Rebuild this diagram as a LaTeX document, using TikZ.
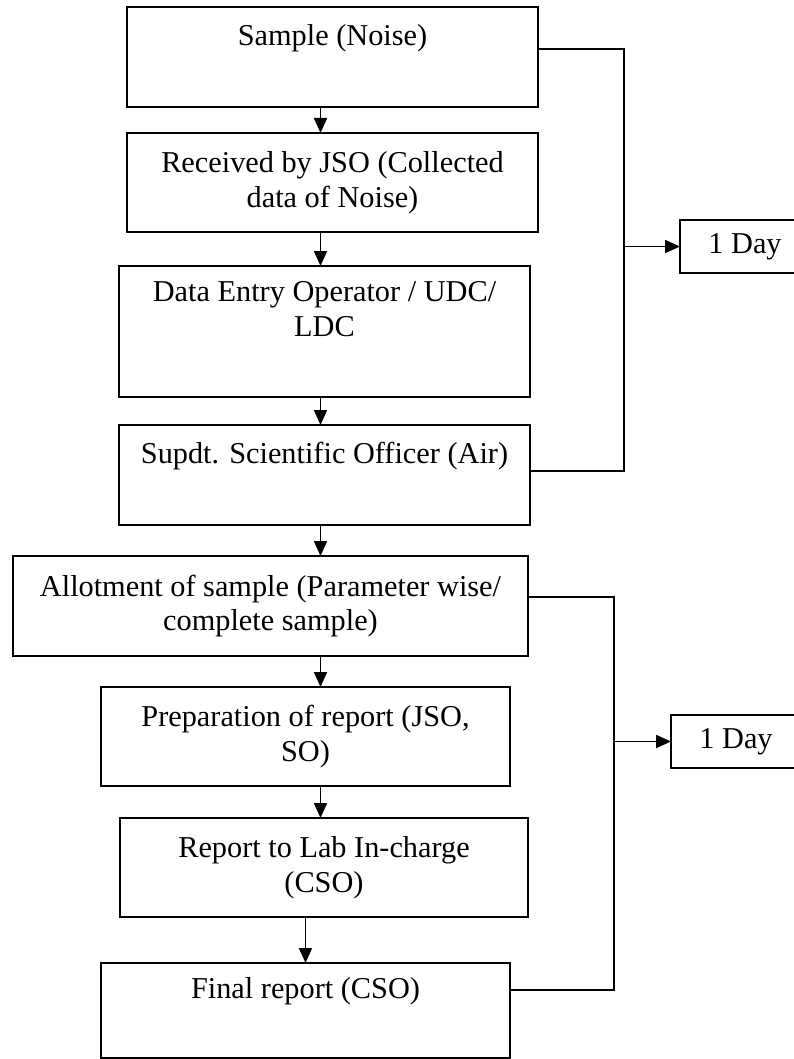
\documentclass[tikz,border=0pt]{standalone}
\usepackage{fontspec}
\setmainfont{Liberation Serif}
\usetikzlibrary{positioning,arrows.meta}

\begin{document}
\begin{tikzpicture}[
    x=1pt, y=-1pt,
    font=\fontsize{30.3}{34.5}\selectfont,
 mybox/.style = {
        draw, rectangle, align=center, line width=1.7pt,
        inner sep=8pt, outer sep=0pt, minimum height=99pt},
daybox/.style = {
        draw, rectangle, line width=1.7pt, anchor=west,
        inner sep=4pt, outer sep=0pt,
        minimum width=130pt, minimum height=53pt},
   arrow/.style = {line width=1.7pt,-{Triangle[length=15pt,width=13pt]}},
 bracket/.style = {line width=1.7pt}
                    ]
\useasboundingbox (0,0) rectangle (794,1059);
% the chain on the left
\node (n1) [mybox, minimum width=411pt, minimum height=100pt,
            anchor=north west] at (127,7)   {Sample (Noise)\\ \strut};
\node (n2) [mybox, minimum width=411pt, below=26pt of n1]
                                    {Received by JSO (Collected\\
                                     data of Noise)};
\node (n3) [mybox, minimum width=411pt, minimum height=131pt,
            below=34pt of n2, xshift=-8pt]
                                    {Data Entry Operator / UDC/\\
                                     LDC\\ \strut};
\node (n4) [mybox, minimum width=411pt, minimum height=100pt,
            below=28pt of n3]       {Supdt. Scientific Officer (Air)\\ \strut};
\node (n5) [mybox, minimum width=515pt, minimum height=100pt,
            below=31pt of n4, xshift=-54pt]
                                    {Allotment of sample (Parameter wise/\\
                                     complete sample)};
\node (n6) [mybox, minimum width=409pt, below=31pt of n5, xshift=35pt]
                                    {Preparation of report (JSO,\\
                                     SO)};
\node (n7) [mybox, minimum width=408pt, below=32pt of n6, xshift=18.5pt]
                                    {Report to Lab In-charge\\
                                     (CSO)};
\node (n8) [mybox, minimum width=409pt, minimum height=95pt,
            below=46pt of n7, xshift=-18.5pt]
                                    {Final report (CSO)\\ \strut};
% arrows down the chain
\coordinate (ax) at (320.5,0);
\draw[arrow] (n1.south -| ax) -- (n2.north -| ax);
\draw[arrow] (n2.south -| ax) -- (n3.north -| ax);
\draw[arrow] (n3.south -| ax) -- (n4.north -| ax);
\draw[arrow] (n4.south -| ax) -- (n5.north -| ax);
\draw[arrow] (n5.south -| ax) -- (n6.north -| ax);
\draw[arrow] (n6.south -| ax) -- (n7.north -| ax);
\draw[arrow] (n7.south -| n8.north) -- (n8.north);
% brackets to the right
\coordinate (r1) at (624,0);
\coordinate (s1) at ([yshift=8pt]n1.east);
\coordinate (e1) at ([yshift=4pt]n4.east);
\draw[bracket] (s1) -| (r1 |- e1) -- (e1);
\node (d1) [daybox] at (680,246.5) {1 Day};
\draw[arrow] (r1 |- d1.west) -- (d1.west);

\coordinate (r2) at (614,0);
\coordinate (s2) at ([yshift=9pt]n5.east);
\coordinate (e2) at ([yshift=20.5pt]n8.east);
\draw[bracket] (s2) -| (r2 |- e2) -- (e2);
\node (d2) [daybox] at (671,741.5) {1 Day};
\draw[arrow] (r2 |- d2.west) -- (d2.west);
\end{tikzpicture}
\end{document}
